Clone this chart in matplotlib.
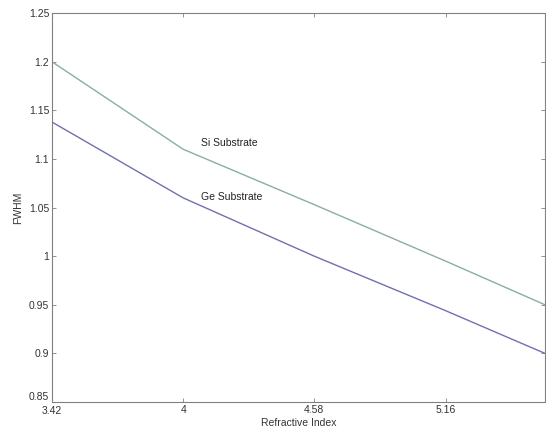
import matplotlib
matplotlib.use('Agg')
import matplotlib.pyplot as plt
import matplotlib.transforms as mtransforms

# Data
refr_index = [3.42, 4.0, 4.58, 5.16, 5.6]
fwhm_si = [1.200, 1.110, 1.053, 0.995, 0.950]
fwhm_ge = [1.138, 1.060, 1.000, 0.944, 0.900]

x_ticks = [3.42, 4, 4.58, 5.16]
x_tick_labels = ['3.42', '4', '4.58', '5.16']
y_ticks = [0.85, 0.9, 0.95, 1, 1.05, 1.1, 1.15, 1.2, 1.25]
y_tick_labels = ['0.85', '0.9', '0.95', '1', '1.05', '1.1', '1.15', '1.2', '1.25']

plt.rcParams['font.family'] = ['Liberation Sans', 'DejaVu Sans']

fig = plt.figure(figsize=(5.46, 4.34), dpi=100)
ax = fig.add_axes([0.0952, 0.0737, 0.903, 0.896])

ax.plot(refr_index, fwhm_si, color='#8aae9f', lw=1.0)
ax.plot(refr_index, fwhm_ge, color='#7070b0', lw=1.0)

ax.text(4.08, 1.116, 'Si Substrate', fontsize=7.5, va='center', color='#222222')
ax.text(4.08, 1.061, 'Ge Substrate', fontsize=7.5, va='center', color='#222222')

ax.set_xlim(3.42, 5.6)
ax.set_ylim(0.85, 1.25)
ax.set_xticks(x_ticks)
ax.set_xticklabels(x_tick_labels)
ax.set_yticks(y_ticks)
ax.set_yticklabels(y_tick_labels)
ax.tick_params(direction='in', top=True, right=True, length=3, width=0.6,
               colors='#808080', labelcolor='#333333', labelsize=7.5, pad=2)
for s in ax.spines.values():
    s.set_color('#808080')
    s.set_linewidth(0.8)

# corner labels sit close together, nudge them apart a little
lab = ax.get_yticklabels()[0]
lab.set_transform(lab.get_transform() + mtransforms.ScaledTranslation(0, 4 / 72, fig.dpi_scale_trans))
lab = ax.get_xticklabels()[0]
lab.set_transform(lab.get_transform() + mtransforms.ScaledTranslation(0, -1 / 72, fig.dpi_scale_trans))

ax.set_xlabel('Refractive Index', fontsize=7.5, color='#333333', labelpad=1)
ax.set_ylabel('FWHM', fontsize=7.5, color='#333333', labelpad=4)

fig.savefig('out.png', dpi=100)
